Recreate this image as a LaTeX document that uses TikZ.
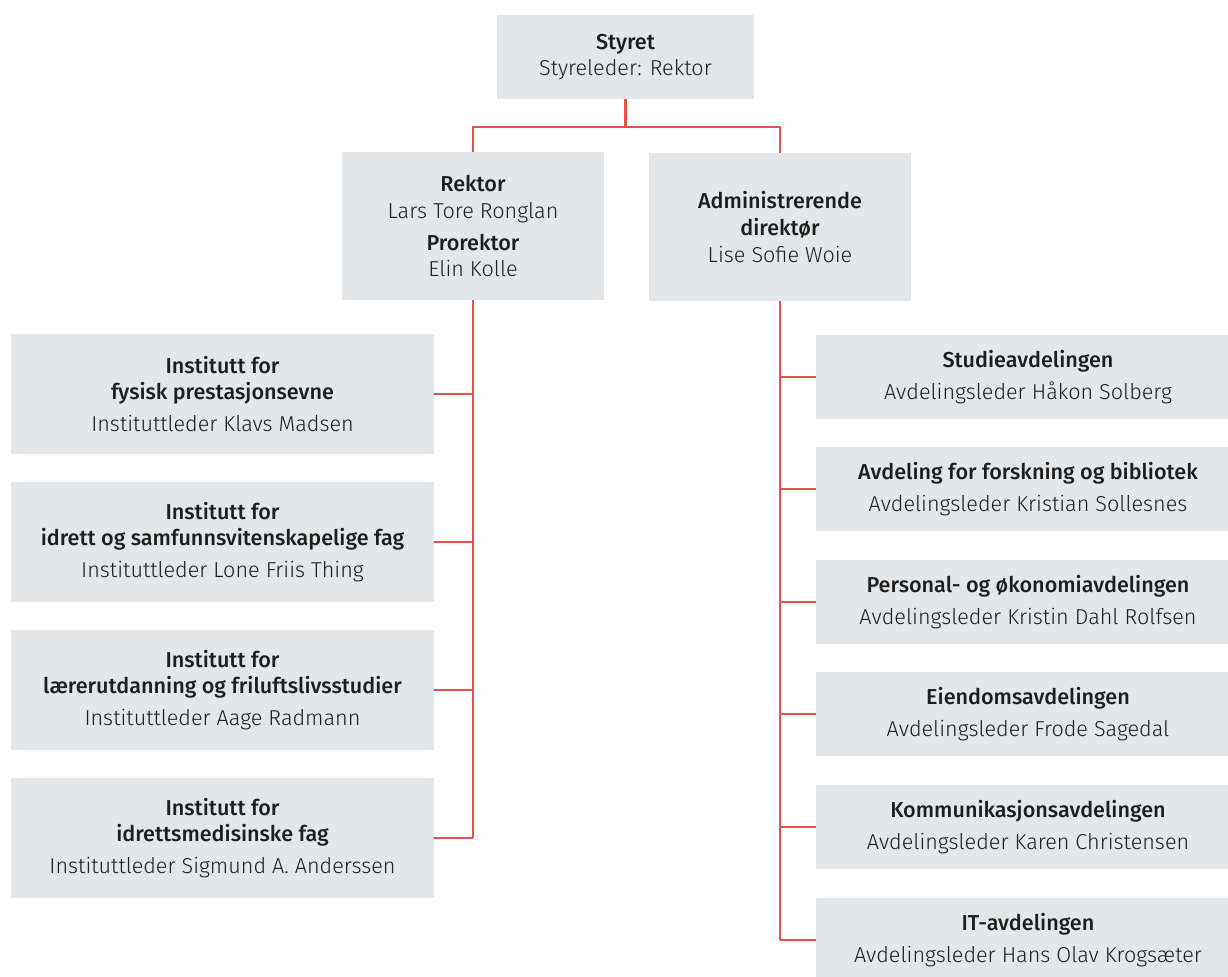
\documentclass[tikz,border=0pt]{standalone}
\usepackage{fontspec}
\setmainfont{Fira Sans}[UprightFont={* Light}, BoldFont={* Medium}]
\definecolor{boxgray}{HTML}{E3E7EA}
\definecolor{linered}{HTML}{E5524D}
\definecolor{txt}{HTML}{1E1E1E}
\tikzset{
  orgbox/.style={fill=boxgray, draw=none, inner sep=0pt, align=center, text=txt,
    font=\fontsize{16.2pt}{20pt}\selectfont},
  conn/.style={draw=linered, line width=1.6pt},
}
\newcommand{\tl}[1]{\textbf{#1}}
\begin{document}
\begin{tikzpicture}[x=0.75pt,y=-0.75pt]
\useasboundingbox (0,0) rectangle (1228,976);
\fill[white] (0,0) rectangle (1228,976);
% top
\node[orgbox, minimum width=192.75pt, minimum height=63pt] (styret) at (625.5,57)
  {\tl{Styret}\\Styreleder: Rektor};
\node[orgbox, minimum width=196.5pt, minimum height=111pt] (rektor) at (473,226)
  {\tl{Rektor}\\Lars Tore Ronglan\\[4pt]\tl{Prorektor}\\Elin Kolle};
\node[orgbox, minimum width=196.5pt, minimum height=111pt] (admin) at (780,227)
  {\tl{Administrerende}\\\tl{direktør}\\Lise Sofie Woie};
% left institutes
\node[orgbox, minimum width=317.25pt, minimum height=90pt] (l1) at (222.5,394)
  {\tl{Institutt for}\\\tl{fysisk prestasjonsevne}\\[4pt]Instituttleder Klavs Madsen};
\node[orgbox, minimum width=317.25pt, minimum height=90pt] (l2) at (222.5,542)
  {\tl{Institutt for}\\\tl{idrett og samfunnsvitenskapelige fag}\\[4pt]Instituttleder Lone Friis Thing};
\node[orgbox, minimum width=317.25pt, minimum height=90pt] (l3) at (222.5,690)
  {\tl{Institutt for}\\\tl{lærerutdanning og friluftslivsstudier}\\[4pt]Instituttleder Aage Radmann};
\node[orgbox, minimum width=317.25pt, minimum height=90pt] (l4) at (222.5,838)
  {\tl{Institutt for}\\\tl{idrettsmedisinske fag}\\[4pt]Instituttleder Sigmund A. Anderssen};
% right departments
\node[orgbox, minimum width=318pt, minimum height=63pt] (r1) at (1028,377)
  {\tl{Studieavdelingen}\\[4pt]Avdelingsleder Håkon Solberg};
\node[orgbox, minimum width=318pt, minimum height=63pt] (r2) at (1028,489)
  {\tl{Avdeling for forskning og bibliotek}\\[4pt]Avdelingsleder Kristian Sollesnes};
\node[orgbox, minimum width=318pt, minimum height=63pt] (r3) at (1028,602)
  {\tl{Personal- og økonomiavdelingen}\\[4pt]Avdelingsleder Kristin Dahl Rolfsen};
\node[orgbox, minimum width=318pt, minimum height=63pt] (r4) at (1028,714)
  {\tl{Eiendomsavdelingen}\\[4pt]Avdelingsleder Frode Sagedal};
\node[orgbox, minimum width=318pt, minimum height=63pt] (r5) at (1028,827)
  {\tl{Kommunikasjonsavdelingen}\\[4pt]Avdelingsleder Karen Christensen};
\node[orgbox, minimum width=318pt, minimum height=63pt] (r6) at (1028,940)
  {\tl{IT-avdelingen}\\[4pt]Avdelingsleder Hans Olav Krogsæter};
% connectors
\coordinate (j) at (625.5,127);
\draw[conn] (styret.south) -- (j);
\draw[conn] (rektor.north) -- (rektor.north |- j) -- (admin.north |- j) -- (admin.north);
\draw[conn] (rektor.south) -- (rektor.south |- l4.east);
\foreach \n in {l1,l2,l3,l4} \draw[conn] (\n.east) -- (\n.east -| rektor.south);
\draw[conn] (admin.south) -- (admin.south |- r6.west);
\foreach \n in {r1,r2,r3,r4,r5,r6} \draw[conn] (\n.west) -- (\n.west -| admin.south);
\end{tikzpicture}
\end{document}
